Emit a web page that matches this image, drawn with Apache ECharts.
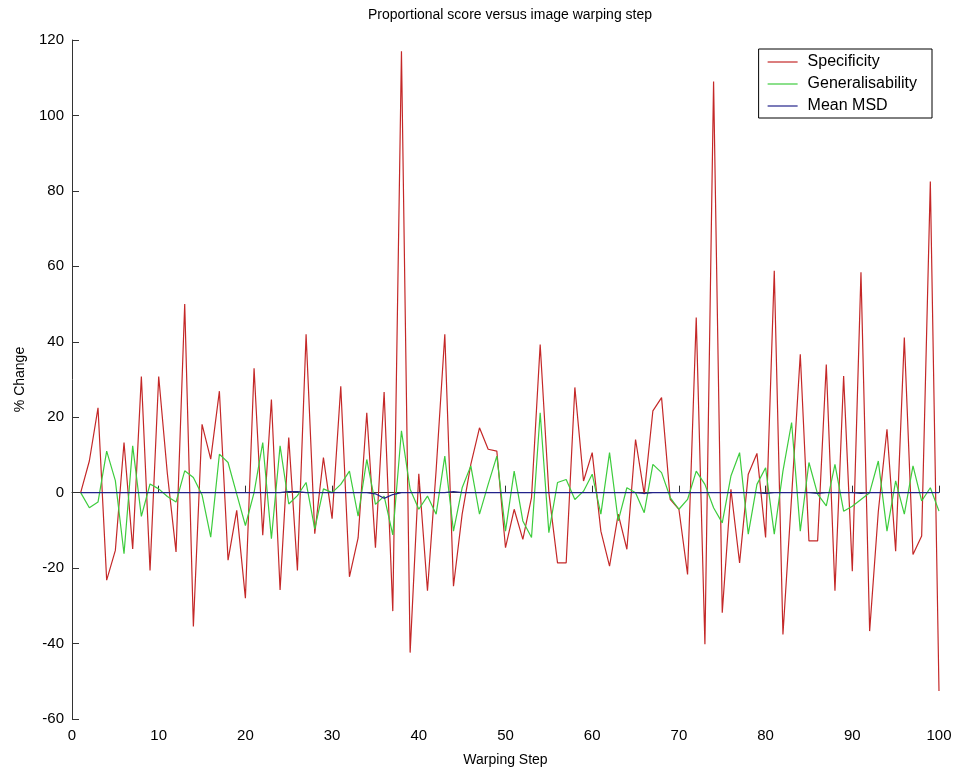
<!DOCTYPE html>
<html>
<head>
<meta charset="utf-8">
<script src="https://cdn.jsdelivr.net/npm/echarts@6/dist/echarts.min.js"></script>
<style>
html,body{margin:0;padding:0;background:#fff;}
#chart{width:955px;height:772px;}
</style>
</head>
<body>
<div id="chart"></div>
<script>
var steps = [1,2,3,4,5,6,7,8,9,10,11,12,13,14,15,16,17,18,19,20,
21,22,23,24,25,26,27,28,29,30,31,32,33,34,35,36,37,38,39,40,
41,42,43,44,45,46,47,48,49,50,51,52,53,54,55,56,57,58,59,60,
61,62,63,64,65,66,67,68,69,70,71,72,73,74,75,76,77,78,79,80,
81,82,83,84,85,86,87,88,89,90,91,92,93,94,95,96,97,98,99,100];

var specificity = [0,8.4,22.5,-23.2,-15.3,13.3,-14.9,30.8,-20.6,30.8,
5,-15.7,50,-35.5,18.1,8.9,26.9,-17.9,-4.7,-28,
33,-11.3,24.7,-25.8,14.6,-20.6,42,-10.9,9.3,-6.9,
28.2,-22.3,-12,21.2,-14.6,26.7,-31.4,117,-42.4,5,
-26,6,42,-24.8,-5.7,7.5,17.2,11.5,11,-14.6,
-4.4,-12.4,-1.3,39.3,0,-18.6,-18.6,27.9,3.1,10.6,
-10.2,-19.5,-5.7,-15,14.1,-0.4,21.7,25.2,-1.8,-4.4,
-21.7,46.4,-40.2,109,-31.8,0.9,-18.6,4.9,10.4,-11.9,
58.8,-37.6,-1,36.7,-12.8,-12.8,34,-26,30.9,-20.8,
58.4,-36.7,-5,16.8,-15.5,41.1,-16.4,-11.5,82.5,-52.6];

var generalisability = [0,-4,-2.5,11,3.2,-16.2,12.4,-6.3,2.3,1,
-1,-2.5,5.8,4,-0.6,-11.8,10.2,8,-0.4,-8.7,
0,13.3,-12.2,12.4,-3,-0.8,2.7,-9.6,1,0,
2.2,5.7,-6.2,8.8,-3.1,-0.9,-11.2,16.4,0.9,-4.4,
-0.9,-5.7,9.7,-10.2,1.3,7.1,-5.7,2.2,9.7,-10.2,
5.7,-7.5,-11.9,21.2,-10.6,2.7,3.5,-1.8,0.4,4.9,
-5.7,10.6,-7.5,1.3,0,-5.3,7.5,5.3,-1.3,-4.4,
-1.8,5.7,2.2,-4,-8,4.4,10.6,-11,2.2,6.6,
-11,5.7,18.6,-10.2,8,-0.4,-3.5,7.5,-4.9,-3.6,
-1.8,0,8.4,-10.2,3.1,-5.7,7.1,-2.2,1.3,-4.9];

var meanMSD = [0,0,0,0,0,0,0,0,0,0,
0,0,0,0,0,0,0,0,0,0,
0,0,0,0,0.3,0.3,0,0,0,0,
0,0,0,0,-0.3,-1.5,-0.5,0,0,0,
0,0,0,0.3,0,0,0,0,0,0,
0,0,0,0,0,0,0,0,0,0,
0,0,0,0,0,-0.2,0,0,0,0,
0,0,0,0,0,0,0,0,0,-0.2,
0,0,0,0,0,-0.2,0,0,0,0,
-0.2,0,0,0,0,0,0,0,0,0];

var xTicks = [0,10,20,30,40,50,60,70,80,90,100];
var yTicks = [-60,-40,-20,0,20,40,60,80,100,120];

function pairs(ys){ return steps.map(function(s,i){ return [s, ys[i]]; }); }

var FONT = '"Liberation Sans", Arial, Helvetica, sans-serif';
var chart = echarts.init(document.getElementById('chart'), null, {renderer:'canvas'});
chart.setOption({
  animation:false,
  backgroundColor:'#fff',
  title:{
    text:'Proportional score versus image warping step',
    left:505, top:3, textAlign:'center',
    textStyle:{fontFamily:FONT, fontSize:14, fontWeight:'normal', color:'#000'}
  },
  legend:{
    orient:'vertical',
    right:23, top:49,
    backgroundColor:'#fff',
    borderColor:'#000', borderWidth:1, borderRadius:0,
    padding:[5,15,4,9],
    itemGap:6,
    itemWidth:30, itemHeight:1.2,
    icon:'rect',
    textStyle:{fontFamily:FONT, fontSize:16, lineHeight:16, color:'#000', padding:[0,0,0,5]},
    data:['Specificity','Generalisability','Mean MSD']
  },
  grid:{left:72, right:16, top:40, bottom:49, containLabel:false},
  xAxis:{
    type:'value', min:xTicks[0], max:xTicks[xTicks.length-1], interval:10,
    name:'Warping Step', nameLocation:'middle', nameGap:34,
    nameTextStyle:{fontFamily:FONT, fontSize:14, color:'#000'},
    axisLine:{show:true, lineStyle:{color:'#333', width:1}},
    axisTick:{show:true, inside:true, length:7, lineStyle:{color:'#333'}},
    axisLabel:{fontFamily:FONT, fontSize:15, color:'#000', margin:9},
    splitLine:{show:false}
  },
  yAxis:{
    type:'value', min:yTicks[0], max:yTicks[yTicks.length-1], interval:20,
    name:'% Change', nameLocation:'middle', nameGap:45, nameRotate:90,
    nameTextStyle:{fontFamily:FONT, fontSize:14, color:'#000'},
    axisLine:{show:true, lineStyle:{color:'#333', width:1}},
    axisTick:{show:true, inside:true, length:7, lineStyle:{color:'#333'}},
    axisLabel:{fontFamily:FONT, fontSize:15, color:'#000', margin:8},
    splitLine:{show:false}
  },
  series:[
    {name:'Specificity', type:'line', data:pairs(specificity), symbol:'none',
     lineStyle:{color:'#c42828', width:1.2}, itemStyle:{color:'#c42828'}, z:3},
    {name:'Generalisability', type:'line', data:pairs(generalisability), symbol:'none',
     lineStyle:{color:'#3dcc3d', width:1.2}, itemStyle:{color:'#3dcc3d'}, z:4},
    {name:'Mean MSD', type:'line', data:pairs(meanMSD), symbol:'none',
     lineStyle:{color:'#22228a', width:1.2}, itemStyle:{color:'#22228a'}, z:5}
  ]
});
</script>
</body>
</html>
